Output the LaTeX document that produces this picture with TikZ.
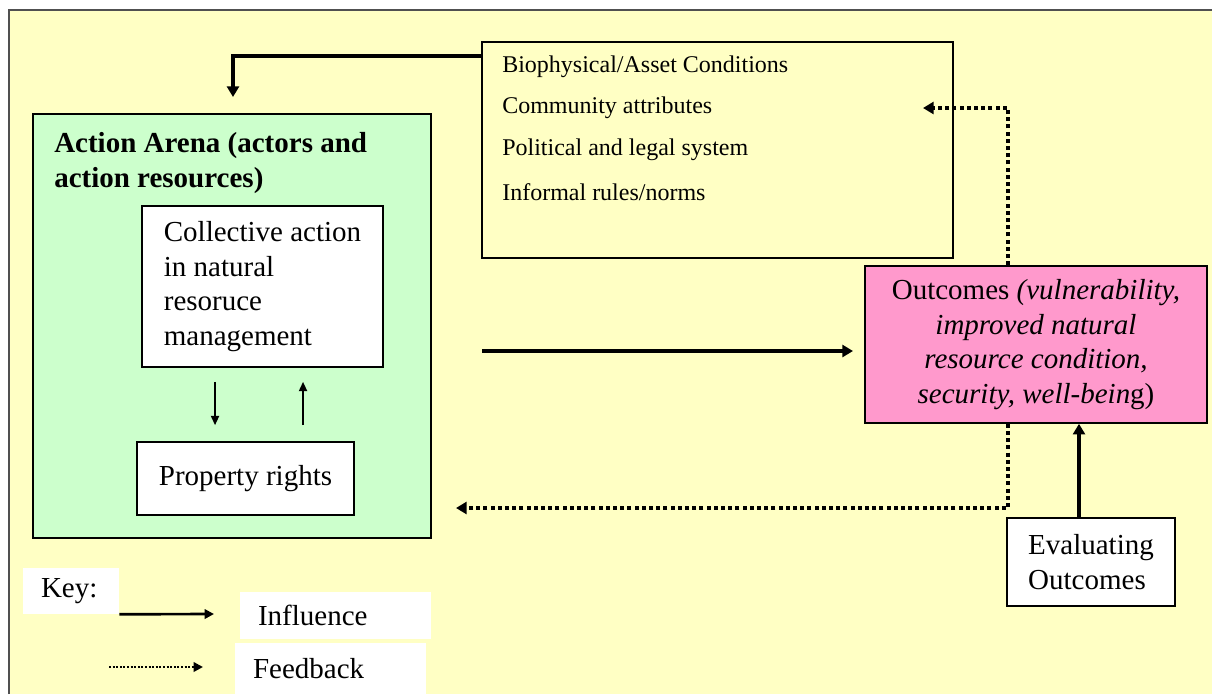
\documentclass[tikz,border=0pt]{standalone}
\usepackage{fontspec}
\setmainfont{Liberation Serif}
\usetikzlibrary{arrows.meta}
\definecolor{bgyellow}{RGB}{255,255,196}
\definecolor{arenagreen}{RGB}{204,255,204}
\definecolor{outpink}{RGB}{255,153,204}
\definecolor{framegray}{RGB}{80,80,80}
\begin{document}
\begin{tikzpicture}[x=0.75pt,y=-0.75pt,
  bigfont/.style={font=\fontsize{21.75pt}{26pt}\selectfont},
  smallfont/.style={font=\fontsize{18pt}{22pt}\selectfont},
  box/.style={draw=black, line width=1.2pt, inner sep=0pt},
  keybox/.style={fill=white, inner ysep=0pt, inner xsep=13.5pt, align=left, bigfont},
  infl/.style={line width=3.4pt, -{Triangle[width=9pt,length=8pt]}},
  fb/.style={line width=3pt, dash pattern=on 3pt off 2.4pt, -{Triangle[width=9pt,length=8pt]}},
  thinar/.style={line width=1.5pt, -{Triangle[width=6pt,length=7pt]}},
  keyinfl/.style={line width=2pt, -{Triangle[width=7pt,length=7pt]}},
  keyfb/.style={line width=1.8pt, dash pattern=on 1.5pt off 1.2pt, -{Triangle[width=7pt,length=7pt]}}
]
\useasboundingbox (0,0) rectangle (1212,694);
\fill[bgyellow] (9,10) rectangle (1212,694);
\draw[line width=1.5pt, framegray] (9,694) -- (9,10) -- (1212,10);

% Action arena
\node[box, fill=arenagreen, minimum width=298.5pt, minimum height=318pt] (arena) at (232,326) {};
\node[anchor=west, inner sep=0pt, align=left, bigfont] (arenatitle) at (54,163)
  {\textbf{Action Arena (actors and}\\\textbf{action resources)}};
\node[box, fill=white, minimum width=180.75pt, minimum height=120.75pt, align=left, bigfont] (collective) at (262.5,286.5)
  {Collective action\\in natural\\resoruce\\management};
\node[box, fill=white, minimum width=162.75pt, minimum height=54.75pt, bigfont] (property) at (245.5,478.5)
  {Property rights};

% Conditions
\node[box, minimum width=353.25pt, minimum height=162pt] (cond) at (717.5,150) {};
\node[anchor=west, inner sep=0pt, smallfont] (c1) at (502,67) {Biophysical/Asset Conditions};
\node[anchor=west, inner sep=0pt, smallfont] (c2) at (502,108) {Community attributes};
\node[anchor=west, inner sep=0pt, smallfont] (c3) at (502,150) {Political and legal system};
\node[anchor=west, inner sep=0pt, smallfont] (c4) at (502,192) {Informal rules/norms};

% Outcomes
\node[box, fill=outpink, minimum width=256.5pt, minimum height=117.75pt, align=center, bigfont] (outcomes) at (1036,344.5)
  {Outcomes \textit{(vulnerability,}\\\textit{improved natural}\\\textit{resource condition,}\\\textit{security, well-bein}g)};

% Evaluating
\node[box, fill=white, minimum width=126pt, minimum height=66pt, align=left, bigfont] (eval) at (1091,562)
  {Evaluating\\Outcomes};

% Key
\node[keybox, text width=45pt, minimum height=34.5pt] (keybox) at (71,591) {Key:};
\node[keybox, text width=116.25pt, minimum height=35.25pt] (inflbox) at (335.5,615.5) {Influence};
\node[keybox, text width=116.25pt, minimum height=38.25pt] (fbbox) at (330.5,668.5) {Feedback};

% Coordinates for free ends
\coordinate (topTip) at (233,97);
\coordinate (mainStart) at (482,351);
\coordinate (mainEnd) at (853,351);
\coordinate (condIn) at (923,108);
\coordinate (fbTip) at (456,508);
\coordinate (keyInflEnd) at (214,614);
\coordinate (keyFbStart) at (109,667);
\coordinate (keyFbEnd) at (203,667);

% Connectors
\draw[infl] ([yshift=-11.25pt]cond.north west) -| (topTip);
\draw[infl] (mainStart) -- (mainEnd);
\draw[fb] ([xshift=-21pt]outcomes.north) |- (condIn);
\draw[fb] ([xshift=-21pt]outcomes.south) |- (fbTip);
\draw[infl] ([xshift=-9pt]eval.north) -- ([xshift=-9pt]eval.north |- outcomes.south);
\draw[thinar] ([xshift=-35.6pt,yshift=-10.5pt]collective.south) -- ([xshift=-35.6pt,yshift=12pt]collective.south |- property.north);
\draw[thinar] ([xshift=30.4pt,yshift=12pt]collective.south |- property.north) -- ([xshift=30.4pt,yshift=-10.5pt]collective.south);
\draw[keyinfl] (keybox.south east) -- (keyInflEnd);
\draw[keyfb] (keyFbStart) -- (keyFbEnd);
\end{tikzpicture}
\end{document}
